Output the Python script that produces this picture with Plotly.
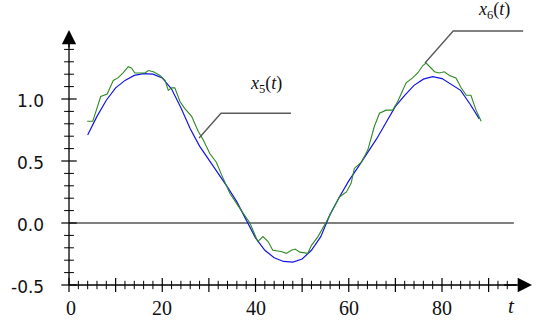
import plotly.graph_objects as go

# ---- data ----
t5 = [4, 6, 8, 10, 12, 14, 16, 18, 20, 22, 24, 26, 28, 30, 32, 34, 36, 38, 40, 42, 44, 46,
      48, 50, 52, 54, 56, 58, 60, 62, 64, 66, 68, 70, 72, 74, 76, 78, 80, 82, 84, 86, 88]
x5 = [0.71, 0.86, 0.99, 1.09, 1.15, 1.19, 1.205, 1.20, 1.17, 1.08, 0.93, 0.76, 0.62, 0.51,
      0.41, 0.29, 0.17, 0.03, -0.12, -0.22, -0.28, -0.31, -0.315, -0.29, -0.22, -0.11, 0.07,
      0.21, 0.34, 0.45, 0.56, 0.68, 0.81, 0.94, 1.03, 1.11, 1.16, 1.18, 1.165, 1.12, 1.07,
      0.96, 0.84]

t6 = [3.9, 5.1, 6.8, 7.5, 8.2, 9.5, 10.5, 11.6, 12.7, 13.4, 14.1, 15.2, 16.3, 17.0, 18.1,
      19.5, 20.6, 21.3, 22.0, 22.7, 23.8, 24.8, 26.3, 27.7, 28.8, 30.2, 31.6, 32.7, 34.5,
      36.6, 38.8, 40.5, 41.6, 42.7, 43.7, 45.5, 46.6, 47.7, 48.5, 49.5, 51.2, 52.0, 53.4,
      55.2, 58.0, 59.5, 60.5, 61.2, 62.7, 64.1, 65.5, 66.6, 68.0, 69.4, 70.5, 72.3, 73.7,
      74.8, 75.9, 76.6, 77.3, 78.4, 79.4, 80.5, 81.6, 83.0, 84.1, 85.2, 86.2, 87.3, 88.4]
x6 = [0.82, 0.82, 1.02, 1.03, 1.04, 1.15, 1.17, 1.21, 1.26, 1.25, 1.21, 1.21, 1.21, 1.23,
      1.22, 1.19, 1.15, 1.07, 1.09, 1.09, 0.98, 0.925, 0.86, 0.74, 0.67, 0.56, 0.49, 0.39,
      0.24, 0.12, 0.0, -0.15, -0.11, -0.15, -0.22, -0.23, -0.245, -0.22, -0.21, -0.235,
      -0.245, -0.18, -0.11, 0.01, 0.21, 0.25, 0.32, 0.44, 0.49, 0.59, 0.78, 0.885, 0.91,
      0.91, 0.98, 1.13, 1.17, 1.21, 1.27, 1.29, 1.26, 1.22, 1.21, 1.22, 1.19, 1.17, 1.09,
      1.03, 1.03, 0.91, 0.82]

x_tick_labels = [0, 20, 40, 60, 80]
y_tick_labels = [1.0, 0.5, 0.0, -0.5]
x_major = [0, 10, 20, 30, 40, 50, 60, 70, 80, 90]
x_minor = [v for v in range(2, 96, 2) if v % 10 != 0]
y_major = [-0.5, 0.0, 0.5, 1.0]
y_minor = [round(-0.4 + 0.1 * i, 1) for i in range(19) if round(-0.4 + 0.1 * i, 1) not in (0.0, 0.5, 1.0)]

# leader lines for the curve labels
lead5_t = [27.9, 32.6, 47.6]
lead5_v = [0.685, 0.885, 0.885]
lead6_t = [76.35, 82.4, 97.4]
lead6_v = [1.29, 1.548, 1.548]

SERIF = "Liberation Serif, Times New Roman, DejaVu Serif, serif"

# ---- figure ----
fig = go.Figure()

# zero line
fig.add_trace(go.Scatter(x=[0, 95.4], y=[0, 0], mode="lines",
                         line=dict(color="black", width=1.2), hoverinfo="skip"))
# axes lines
fig.add_trace(go.Scatter(x=[0, 96], y=[-0.5, -0.5], mode="lines",
                         line=dict(color="black", width=1.3), hoverinfo="skip"))
fig.add_trace(go.Scatter(x=[0, 0], y=[-0.5, 1.45], mode="lines",
                         line=dict(color="black", width=1.3), hoverinfo="skip"))
# ticks (crossing the axis)
fig.add_trace(go.Scatter(x=x_major, y=[-0.5] * len(x_major), mode="markers",
                         marker=dict(symbol="line-ns", size=10, line=dict(color="black", width=1.2)),
                         hoverinfo="skip"))
fig.add_trace(go.Scatter(x=x_minor, y=[-0.5] * len(x_minor), mode="markers",
                         marker=dict(symbol="line-ns", size=6, line=dict(color="black", width=1)),
                         hoverinfo="skip"))
fig.add_trace(go.Scatter(x=[0] * len(y_major), y=y_major, mode="markers",
                         marker=dict(symbol="line-ew", size=11, line=dict(color="black", width=1.2)),
                         hoverinfo="skip"))
fig.add_trace(go.Scatter(x=[0] * len(y_minor), y=y_minor, mode="markers",
                         marker=dict(symbol="line-ew", size=7, line=dict(color="black", width=1)),
                         hoverinfo="skip"))

# curves
fig.add_trace(go.Scatter(x=t5, y=x5, mode="lines", line=dict(color="#1414e6", width=1.2),
                         name="x5"))
fig.add_trace(go.Scatter(x=t6, y=x6, mode="lines", line=dict(color="#2e8a22", width=1.1),
                         name="x6"))

# leader lines
fig.add_trace(go.Scatter(x=lead5_t, y=lead5_v, mode="lines",
                         line=dict(color="#5a5a5a", width=1.4), hoverinfo="skip"))
fig.add_trace(go.Scatter(x=lead6_t, y=lead6_v, mode="lines",
                         line=dict(color="#5a5a5a", width=1.4), hoverinfo="skip"))

annotations = []
# arrow heads on axes
annotations.append(dict(x=99.3, y=-0.5, ax=93, ay=-0.5, xref="x", yref="y", axref="x", ayref="y",
                        showarrow=True, arrowhead=2, arrowsize=2.2, arrowwidth=1.3,
                        arrowcolor="black", text=" ", font=dict(size=1)))
annotations.append(dict(x=0, y=1.556, ax=0, ay=1.40, xref="x", yref="y", axref="x", ayref="y",
                        showarrow=True, arrowhead=2, arrowsize=2.2, arrowwidth=1.3,
                        arrowcolor="black", text=" ", font=dict(size=1)))
# y tick labels
for v in y_tick_labels:
    annotations.append(dict(x=-4.9, y=v, xref="x", yref="y", text=f"{v:.1f}", showarrow=False,
                            xanchor="right", yanchor="middle", yshift=-2,
                            font=dict(family="DejaVu Sans", size=17, color="#111")))
# x tick labels
for v in x_tick_labels:
    annotations.append(dict(x=v, y=-0.685, xref="x", yref="y", text=str(v), showarrow=False,
                            xanchor="center", yanchor="middle", xshift=2 if v == 0 else 0,
                            font=dict(family=SERIF, size=20, color="#111")))
# axis name
annotations.append(dict(x=95.0, y=-0.67, xref="x", yref="y", text="<i>t</i>", showarrow=False,
                        xanchor="center", yanchor="middle",
                        font=dict(family=SERIF, size=21, color="#111")))
# curve labels
annotations.append(dict(x=42.3, y=1.113, xref="x", yref="y", text="<i>x</i><sub>5</sub>(<i>t</i>)",
                        showarrow=False, xanchor="center", yanchor="middle",
                        font=dict(family=SERIF, size=18, color="#111")))
annotations.append(dict(x=91.2, y=1.715, xref="x", yref="y", text="<i>x</i><sub>6</sub>(<i>t</i>)",
                        showarrow=False, xanchor="center", yanchor="middle",
                        font=dict(family=SERIF, size=18, color="#111")))

fig.update_layout(
    width=554, height=324,
    margin=dict(l=0, r=0, t=0, b=0),
    paper_bgcolor="white", plot_bgcolor="white",
    showlegend=False,
    xaxis=dict(range=[-14.80, 104.02], visible=False, fixedrange=True),
    yaxis=dict(range=[-0.8145, 1.7984], visible=False, fixedrange=True),
    annotations=annotations,
)

fig.write_html("out.html", config={"displayModeBar": False},
               post_script="document.body.style.margin='0px';document.body.style.overflow='hidden';")
